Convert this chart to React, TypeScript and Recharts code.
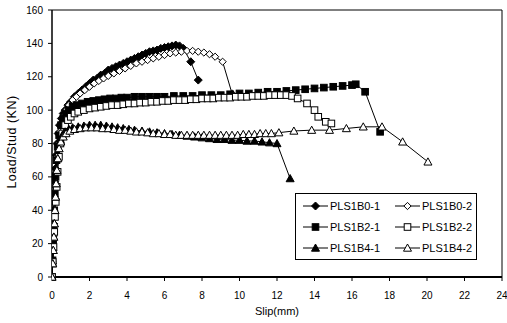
import { LineChart, Line, XAxis, YAxis, ReferenceLine } from 'recharts'

type Pt = [number, number] // [slip mm, load kN]

const xTicks = [0, 2, 4, 6, 8, 10, 12, 14, 16, 18, 20, 22, 24]
const yTicks = [0, 20, 40, 60, 80, 100, 120, 140, 160]

const pls1b0_1: Pt[] = [
  [0, 0], [0.02, 8], [0.04, 16], [0.06, 24], [0.08, 32], [0.1, 40], [0.12, 48], [0.15, 57], [0.18, 65],
  [0.22, 73], [0.27, 80], [0.33, 86], [0.4, 91], [0.5, 95], [0.6, 98], [0.7, 100], [0.85, 103], [1.0, 105],
  [1.2, 108], [1.4, 110], [1.6, 112], [1.8, 114], [2.0, 116], [2.2, 118], [2.4, 119], [2.6, 121], [2.8, 122],
  [3.0, 124], [3.2, 125], [3.4, 126], [3.6, 127], [3.8, 128], [4.0, 129], [4.2, 130], [4.4, 131], [4.6, 132],
  [4.8, 133], [5.0, 134], [5.2, 135], [5.4, 135.5], [5.6, 136], [5.8, 137], [6.0, 137.5], [6.2, 138],
  [6.4, 138.5], [6.6, 139], [6.8, 138.5], [7.0, 137], [7.4, 129], [7.8, 118],
]

const pls1b0_2: Pt[] = [
  [0, 0], [0.03, 9], [0.06, 18], [0.09, 27], [0.12, 36], [0.15, 45], [0.18, 54], [0.22, 63], [0.27, 72],
  [0.33, 80], [0.4, 87], [0.5, 92], [0.6, 96], [0.75, 100], [0.9, 103], [1.1, 106], [1.3, 108], [1.5, 110],
  [1.75, 112], [2.0, 114], [2.25, 116], [2.5, 117.5], [2.75, 119], [3.0, 120.5], [3.3, 122], [3.6, 123.5],
  [3.9, 125], [4.2, 126.5], [4.5, 128], [4.8, 129], [5.1, 130], [5.4, 131], [5.7, 132], [6.0, 133], [6.3, 134],
  [6.6, 134.5], [6.9, 135], [7.2, 135.5], [7.5, 135.5], [7.8, 135], [8.1, 134.5], [8.4, 133.5], [8.7, 132],
  [9.1, 129], [9.6, 110],
]

const pls1b2_1: Pt[] = [
  [0, 0], [0.03, 10], [0.06, 20], [0.09, 30], [0.12, 40], [0.15, 50], [0.19, 60], [0.24, 70], [0.3, 78],
  [0.38, 85], [0.48, 91], [0.6, 95], [0.75, 98], [0.9, 100], [1.1, 102], [1.3, 103], [1.6, 104], [1.9, 105],
  [2.2, 105.5], [2.5, 106], [2.8, 106.5], [3.1, 107], [3.4, 107], [3.7, 107.5], [4.0, 107.5], [4.4, 108],
  [4.8, 108], [5.2, 108], [5.6, 108], [6.0, 108], [6.5, 108.5], [7.0, 108.5], [7.5, 108.5], [8.0, 109],
  [8.5, 109], [9.0, 109], [9.5, 109.5], [10.0, 110], [10.5, 110], [11.0, 110.5], [11.5, 111], [12.0, 111],
  [12.5, 111.5], [13.0, 112], [13.5, 112.5], [14.0, 113], [14.5, 113.5], [15.0, 114], [15.5, 114.5],
  [16.0, 115], [16.2, 115.5], [16.7, 111], [17.5, 87],
]

const pls1b2_2: Pt[] = [
  [0, 0], [0.04, 9], [0.08, 18], [0.12, 27], [0.16, 36], [0.2, 45], [0.25, 54], [0.3, 63], [0.37, 72],
  [0.45, 80], [0.55, 86], [0.7, 91], [0.85, 94], [1.0, 96], [1.2, 98], [1.4, 99], [1.7, 100], [2.0, 101],
  [2.3, 101.5], [2.6, 102], [2.9, 102.5], [3.2, 103], [3.5, 103], [3.8, 103.5], [4.1, 104], [4.4, 104],
  [4.7, 104.5], [5.0, 104.5], [5.3, 105], [5.6, 105], [5.9, 105.5], [6.2, 105.5], [6.5, 106], [6.8, 106],
  [7.1, 106], [7.4, 106.5], [7.7, 106.5], [8.0, 107], [8.3, 107], [8.6, 107], [8.9, 107.5], [9.2, 107.5],
  [9.5, 107.5], [9.8, 108], [10.1, 108], [10.4, 108], [10.7, 108.5], [11.0, 108.5], [11.3, 108.5],
  [11.6, 109], [11.9, 109], [12.2, 109], [12.5, 109], [12.8, 108.5], [13.1, 107], [13.6, 104], [14.0, 100],
  [14.2, 96], [14.6, 93], [14.9, 92],
]

const pls1b4_1: Pt[] = [
  [0, 0], [0.03, 8], [0.06, 16], [0.09, 24], [0.12, 32], [0.15, 40], [0.18, 48], [0.21, 56], [0.25, 64],
  [0.3, 71], [0.36, 77], [0.45, 82], [0.55, 85], [0.7, 87], [0.9, 88.5], [1.1, 89.5], [1.4, 90], [1.7, 90.5],
  [2.0, 91], [2.3, 91], [2.6, 91], [2.9, 90.5], [3.2, 90], [3.5, 89.5], [3.8, 89], [4.1, 88.5], [4.4, 88],
  [4.8, 87.5], [5.2, 87], [5.6, 86.5], [6.0, 86], [6.4, 85.5], [6.8, 85], [7.2, 84.5], [7.6, 84], [8.0, 83.5],
  [8.4, 83], [8.8, 82.5], [9.2, 82.5], [9.6, 82], [10.0, 82], [10.4, 81.5], [10.8, 81.5], [11.2, 81],
  [11.6, 80.5], [12.0, 80], [12.7, 59],
]

const pls1b4_2: Pt[] = [
  [0, 0], [0.04, 8], [0.07, 16], [0.1, 24], [0.13, 32], [0.16, 40], [0.19, 48], [0.22, 56], [0.26, 64],
  [0.31, 71], [0.38, 77], [0.47, 81], [0.6, 84], [0.75, 86], [0.95, 87.5], [1.2, 88.5], [1.5, 89], [1.8, 89.5],
  [2.1, 89.5], [2.4, 89.5], [2.7, 89], [3.0, 89], [3.3, 88.5], [3.6, 88], [3.9, 88], [4.2, 87.5], [4.5, 87],
  [4.8, 87], [5.1, 86.5], [5.4, 86], [5.7, 86], [6.0, 85.5], [6.3, 85.5], [6.6, 85], [6.9, 85], [7.2, 85],
  [7.5, 85], [7.8, 85], [8.1, 85], [8.4, 85], [8.7, 85], [9.0, 85], [9.3, 85], [9.6, 85], [9.9, 85],
  [10.2, 85.5], [10.5, 85.5], [10.8, 85.5], [11.1, 86], [11.4, 86], [11.7, 86], [12.1, 86.5], [12.9, 87.5],
  [13.85, 88], [14.8, 88], [15.7, 89], [16.6, 90], [17.6, 90], [18.7, 81], [20.05, 69],
]

type Shape = 'diamond' | 'square' | 'triangle'

const series: { name: string; pts: Pt[]; shape: Shape; filled: boolean }[] = [
  { name: 'PLS1B0-1', pts: pls1b0_1, shape: 'diamond', filled: true },
  { name: 'PLS1B0-2', pts: pls1b0_2, shape: 'diamond', filled: false },
  { name: 'PLS1B2-1', pts: pls1b2_1, shape: 'square', filled: true },
  { name: 'PLS1B2-2', pts: pls1b2_2, shape: 'square', filled: false },
  { name: 'PLS1B4-1', pts: pls1b4_1, shape: 'triangle', filled: true },
  { name: 'PLS1B4-2', pts: pls1b4_2, shape: 'triangle', filled: false },
]

const FONT = '"Liberation Sans", Arial, sans-serif'

function Marker({ cx, cy, shape, filled }: { cx: number; cy: number; shape: Shape; filled: boolean }) {
  const fill = filled ? '#000' : '#fff'
  const common = { fill, stroke: '#000', strokeWidth: 1 }
  if (shape === 'diamond') {
    const r = filled ? 4 : 3.6
    return <polygon points={`${cx},${cy - r} ${cx + r},${cy} ${cx},${cy + r} ${cx - r},${cy}`} {...common} />
  }
  if (shape === 'square') {
    const r = 3.3
    return <rect x={cx - r} y={cy - r} width={r * 2} height={r * 2} {...common} />
  }
  const r = 4
  return <polygon points={`${cx},${cy - r} ${cx + r},${cy + r * 0.8} ${cx - r},${cy + r * 0.8}`} {...common} />
}

function LegendBox() {
  return (
    <div
      style={{
        position: 'absolute',
        left: 295,
        top: 193,
        width: 182,
        height: 67,
        boxSizing: 'border-box',
        border: '1px solid #000',
        background: '#fff',
        display: 'grid',
        gridTemplateColumns: '92px 1fr',
        alignContent: 'center',
        rowGap: 6,
        paddingLeft: 7,
        fontFamily: FONT,
        fontSize: 11,
      }}
    >
      {series.map((s) => (
        <div key={s.name} style={{ display: 'flex', alignItems: 'center', height: 15 }}>
          <svg width={25} height={12} style={{ marginRight: 2 }}>
            <line x1={0} y1={6} x2={25} y2={6} stroke="#000" strokeWidth={1} />
            <Marker cx={12.5} cy={6} shape={s.shape} filled={s.filled} />
          </svg>
          <span>{s.name}</span>
        </div>
      ))}
    </div>
  )
}

export default function App() {
  return (
    <div style={{ position: 'absolute', left: 0, top: 0, width: 507, height: 323, background: '#fff' }}>
      <LineChart width={507} height={323} margin={{ top: 10, right: 5, left: 12, bottom: 6 }}>
        <XAxis
          dataKey="slip"
          type="number"
          domain={[0, 24]}
          ticks={xTicks}
          allowDataOverflow
          tickSize={4}
          tickMargin={11}
          height={40}
          axisLine={{ stroke: '#000', strokeWidth: 2 }}
          tickLine={{ stroke: '#000' }}
          tick={{ fill: '#000', fontSize: 10, fontFamily: FONT }}
          label={{ value: 'Slip(mm)', position: 'insideBottom', offset: 2, fill: '#000', fontSize: 11, fontFamily: FONT }}
        />
        <YAxis
          type="number"
          domain={[0, 160]}
          ticks={yTicks}
          width={40}
          tickSize={4}
          tickMargin={5}
          axisLine={{ stroke: '#000', strokeWidth: 1.5 }}
          tickLine={{ stroke: '#000' }}
          tick={{ fill: '#000', fontSize: 10, fontFamily: FONT }}
          label={{
            content: () => (
              <text
                x={16}
                y={142}
                transform="rotate(-90 16 142)"
                textAnchor="middle"
                fontSize={12.5}
                letterSpacing={0.5}
                fontFamily={FONT}
                fill="#000"
              >
                Load/Stud (KN)
              </text>
            ),
          }}
        />
        <ReferenceLine y={160} stroke="#000" strokeWidth={1} />
        <ReferenceLine x={24} stroke="#000" strokeWidth={1} />
        {series.map((s) => (
          <Line
            key={s.name}
            name={s.name}
            data={s.pts.map(([slip, load]) => ({ slip, load }))}
            dataKey="load"
            stroke="#000"
            strokeWidth={1}
            isAnimationActive={false}
            dot={(p: any) => <Marker key={`${s.name}-${p.index}`} cx={p.cx} cy={p.cy} shape={s.shape} filled={s.filled} />}
            activeDot={false}
          />
        ))}
      </LineChart>
      <LegendBox />
    </div>
  )
}
